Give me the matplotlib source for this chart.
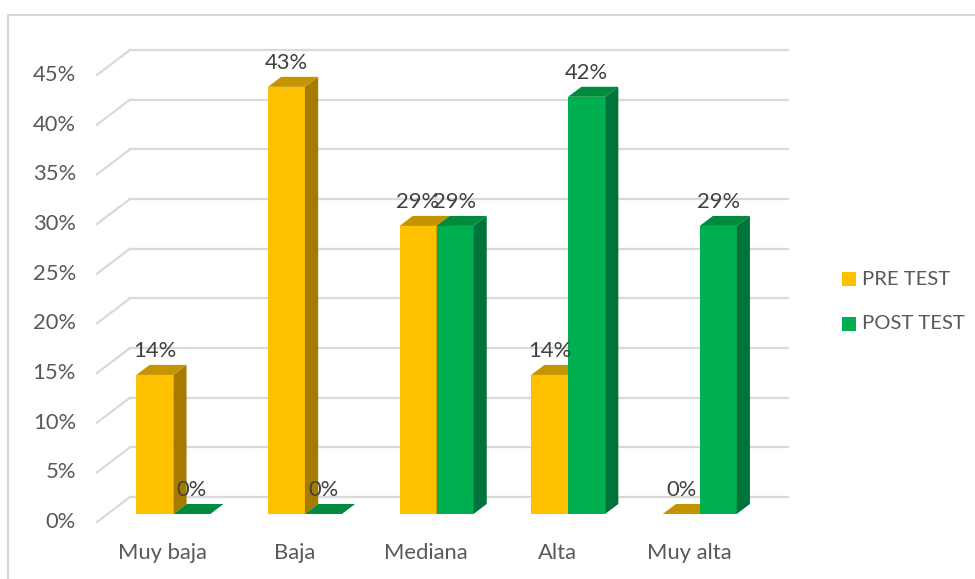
import matplotlib
matplotlib.use("Agg")
from matplotlib import pyplot as plt
from matplotlib.patches import Polygon

# Values per category (percent)
categories = ["Muy baja", "Baja", "Mediana", "Alta", "Muy alta"]
pre_test = [14, 43, 29, 14, 0]
post_test = [0, 0, 29, 42, 29]
series_names = ["PRE TEST", "POST TEST"]
y_ticks = [0, 5, 10, 15, 20, 25, 30, 35, 40, 45]

# front / top / side shades for each series
front_colors = ["#FFC000", "#00B050"]
top_colors = ["#C49500", "#008A3E"]
side_colors = ["#A67C00", "#00733A"]

# fake 3d: full depth of the floor expressed in data units
depth_x = 0.251
depth_y = 2.52
bar_front = 0.32   # fraction of depth where bars start
bar_back = 0.72    # fraction of depth where bars end
bar_w = 0.281

fig = plt.figure(figsize=(9.75, 5.79), dpi=100)
ax = fig.add_axes([0, 0, 1, 1])
ax.set_xlim(-0.737, 6.672)
ax.set_ylim(-5.74, 52.55)
ax.axis("off")

text_color = "#595959"
font = "Lato"
fs = 15.8

# chart frame (top and left edges)
fig.add_artist(plt.Line2D([8 / 975, 1], [1 - 15 / 579, 1 - 15 / 579],
                          color="#D9D9D9", lw=1.5, transform=fig.transFigure))
fig.add_artist(plt.Line2D([8 / 975, 8 / 975], [0, 1 - 15 / 579],
                          color="#D9D9D9", lw=1.5, transform=fig.transFigure))

# back wall gridlines with slanted side-wall segments
n = len(categories)
for t in y_ticks:
    ax.plot([0, depth_x], [t, t + depth_y], color="#D9D9D9", lw=1.6, zorder=1)
    ax.plot([depth_x, n + depth_x], [t + depth_y, t + depth_y],
            color="#D9D9D9", lw=1.6, zorder=1)
    ax.text(-0.16, t, f"{t}%", ha="right", va="center", fontsize=fs,
            color=text_color, family=font)


def draw_bar(x0, h, s):
    fx, fy = depth_x * bar_front, depth_y * bar_front
    d = bar_back - bar_front
    dx, dy = depth_x * d, depth_y * d
    x = x0 + fx
    y0 = fy
    y1 = fy + h
    front = Polygon([(x, y0), (x + bar_w, y0), (x + bar_w, y1), (x, y1)],
                    closed=True, fc=front_colors[s], ec="none", zorder=3)
    side = Polygon([(x + bar_w, y0), (x + bar_w + dx, y0 + dy),
                    (x + bar_w + dx, y1 + dy), (x + bar_w, y1)],
                   closed=True, fc=side_colors[s], ec="none", zorder=3)
    top = Polygon([(x, y1), (x + bar_w, y1), (x + bar_w + dx, y1 + dy),
                   (x + dx, y1 + dy)],
                  closed=True, fc=top_colors[s], ec="none", zorder=3)
    for p in (front, side, top):
        ax.add_patch(p)
    ax.text(x + bar_w / 2, y1 + 2.42, f"{h}%", ha="center", va="center",
            fontsize=fs, color="#404040", family=font, zorder=4)


for i, cat in enumerate(categories):
    center = i + 0.5
    draw_bar(center - bar_w, pre_test[i], 0)
    draw_bar(center, post_test[i], 1)
    ax.text(center, -3.15, cat, ha="center", va="center", fontsize=fs,
            color=text_color, family=font)

# legend
for s, name in enumerate(series_names):
    ly = 0.518 - s * 0.0775
    fig.add_artist(plt.Rectangle((842 / 975, ly - 0.012), 14 / 975, 14 / 579,
                                 fc=front_colors[s], ec="none",
                                 transform=fig.transFigure))
    fig.text(862 / 975, ly, name, ha="left", va="center", fontsize=14.6,
             color=text_color, family=font)

fig.savefig("out.png", dpi=100)
